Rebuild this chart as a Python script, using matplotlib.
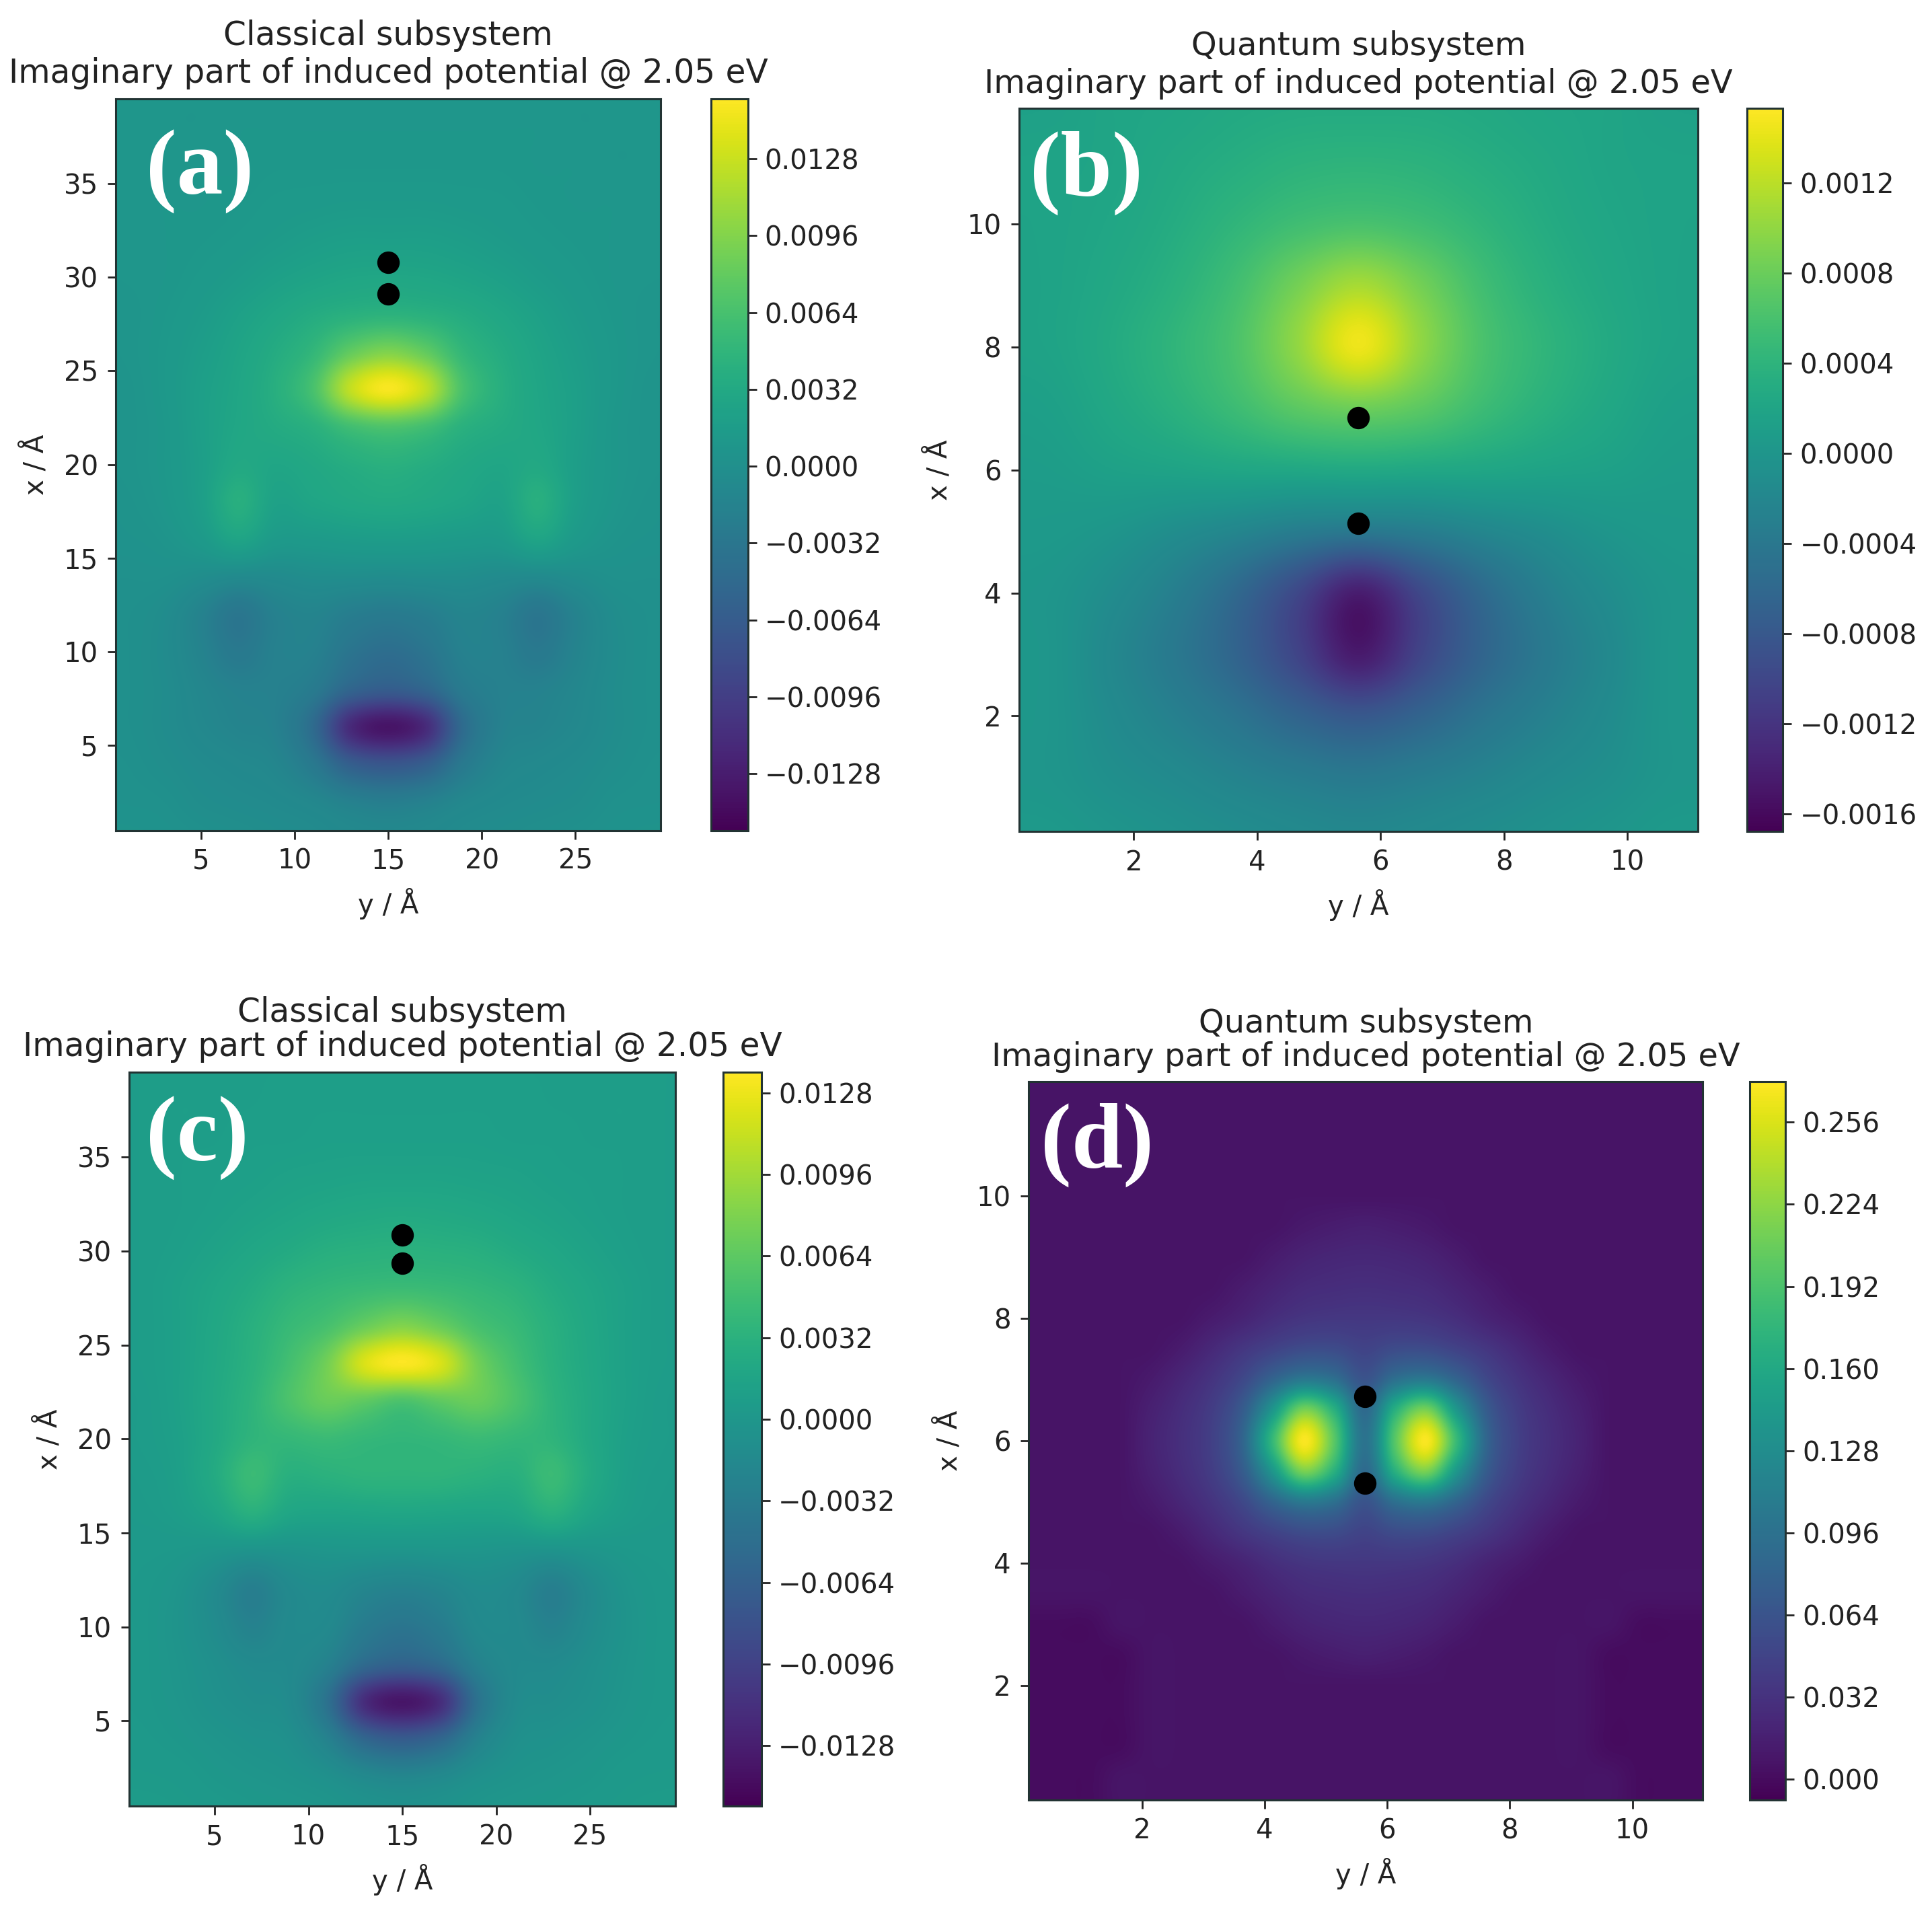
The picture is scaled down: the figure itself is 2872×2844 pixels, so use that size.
import numpy as np
import matplotlib
matplotlib.use('Agg')
import matplotlib.pyplot as plt

W = 2872
H = 2844
S = 2872 / 1568   # my pixel readings were done on a 1568 wide view

plt.rcParams['font.family'] = 'DejaVu Sans'
plt.rcParams['font.size'] = 29
plt.rcParams['text.color'] = '#222222'
plt.rcParams['axes.labelcolor'] = '#222222'
plt.rcParams['xtick.color'] = '#222222'
plt.rcParams['ytick.color'] = '#222222'

title_classical = 'Classical subsystem\nImaginary part of induced potential @ 2.05 eV'
title_quantum = 'Quantum subsystem\nImaginary part of induced potential @ 2.05 eV'

# panel (a), values x 1e-3, rows x = 40, 38 ... 0, columns y = 1, 3 ... 15 (other half is mirror)
a_half = [
    [.8, .8, .8, .8, .8, .8, .8, .8],
    [.8, .8, .8, .9, .9, .9, .9, .9],
    [.8, .8, .9, .9, 1.0, 1.0, 1.0, 1.0],
    [.8, .9, .9, 1.0, 1.2, 1.3, 1.4, 1.4],
    [.8, .9, 1.0, 1.2, 1.5, 1.8, 2.0, 2.0],
    [.8, .9, 1.2, 1.6, 2.1, 2.5, 2.8, 2.9],
    [.7, 1.0, 1.5, 2.2, 2.9, 3.6, 4.2, 4.5],
    [.7, 1.1, 1.8, 2.6, 3.6, 5.0, 8.0, 9.5],
    [.6, 1.1, 2.0, 2.8, 4.0, 6.5, 12.5, 15.0],
    [.6, 1.0, 2.0, 2.9, 3.5, 4.2, 6.0, 6.8],
    [.6, 1.0, 1.9, 3.2, 2.8, 3.2, 3.8, 4.2],
    [.5, .9, 1.9, 4.0, 2.3, 2.7, 3.1, 3.3],
    [.4, .6, 1.3, 2.6, 1.4, 1.4, 1.6, 1.7],
    [.2, .2, -.2, -.6, -.5, -.2, -.2, -.3],
    [.1, -.3, -1.6, -3.2, -1.8, -1.4, -2.2, -2.6],
    [.1, -.4, -1.5, -2.8, -1.8, -1.8, -3.4, -4.2],
    [.1, -.3, -1.1, -1.7, -1.8, -2.6, -5.2, -6.2],
    [.1, -.3, -.9, -1.4, -1.8, -4.5, -11.5, -13.5],
    [.2, -.1, -.5, -.8, -1.2, -2.8, -6.0, -7.0],
    [.3, .2, -.2, -.4, -.6, -1.0, -1.8, -2.2],
    [.5, .4, .2, 0, -.2, -.4, -.7, -.8],
]

# panel (c), same grid as (a)
c_half = [
    [.8, .8, .9, .9, .9, .9, .9, .9],
    [.8, .9, .9, .9, 1.0, 1.0, 1.0, 1.0],
    [.8, .9, .9, 1.0, 1.0, 1.1, 1.1, 1.1],
    [.8, .9, 1.0, 1.1, 1.3, 1.4, 1.5, 1.5],
    [.8, .9, 1.1, 1.4, 1.7, 2.0, 2.2, 2.3],
    [.8, 1.0, 1.4, 1.9, 2.4, 2.9, 3.1, 3.2],
    [.8, 1.2, 1.8, 2.5, 3.4, 3.9, 4.3, 4.5],
    [.8, 1.2, 2.0, 3.0, 4.2, 5.2, 7.0, 8.2],
    [.8, 1.2, 2.1, 3.2, 5.0, 7.5, 12.0, 13.5],
    [.7, 1.2, 2.2, 3.5, 5.5, 7.0, 6.5, 5.5],
    [.7, 1.1, 2.2, 3.6, 4.0, 4.4, 4.0, 3.8],
    [.6, 1.0, 2.4, 4.4, 3.0, 3.2, 3.5, 3.5],
    [.5, .8, 1.6, 3.0, 1.8, 1.6, 1.7, 1.8],
    [.3, .2, -.1, -.4, -.3, -.1, -.1, -.2],
    [.2, -.2, -1.3, -2.8, -1.5, -1.2, -2.0, -2.4],
    [.2, -.3, -1.2, -2.4, -1.5, -1.6, -3.2, -4.0],
    [.2, -.2, -.8, -1.4, -1.5, -2.5, -5.2, -6.2],
    [.2, -.1, -.6, -1.0, -1.4, -4.4, -11.5, -13.5],
    [.3, .1, -.2, -.5, -.8, -2.4, -5.6, -6.8],
    [.5, .4, .1, -.1, -.3, -.7, -1.5, -1.9],
    [.7, .6, .4, .2, .1, -.1, -.4, -.5],
]

# panel (b), values x 1e-3, rows x = 12, 11 ... 0, columns y = 0.64 ... 5.64
b_half = [
    [.15, .20, .22, .26, .28, .28],
    [.18, .20, .26, .32, .38, .40],
    [.18, .22, .30, .42, .54, .60],
    [.18, .25, .36, .55, .85, 1.10],
    [.18, .28, .42, .62, 1.00, 1.45],
    [.14, .24, .36, .52, .72, .82],
    [.10, .15, .18, .22, .24, .26],
    [.05, .0, -.10, -.20, -.32, -.38],
    [.0, -.12, -.30, -.58, -.98, -1.42],
    [.0, -.18, -.38, -.64, -1.02, -1.45],
    [.0, -.14, -.28, -.44, -.65, -.80],
    [.0, -.08, -.15, -.24, -.32, -.38],
    [.05, .0, -.05, -.10, -.15, -.18],
]

# panel (d), rows x = 12, 11.5 ... 0, columns y = 0.14, 0.64 ... 5.64
bg = .007
low = .001
d_half = [
    [bg] * 12,
    [bg] * 12,
    [bg] * 12,
    [bg] * 12,
    [bg] * 12,
    [bg, bg, bg, bg, bg, bg, bg, bg, bg, .011, .014, .016],
    [bg, bg, bg, bg, bg, bg, bg, bg, .013, .019, .022, .023],
    [bg, bg, bg, bg, bg, bg, bg, .013, .020, .026, .028, .029],
    [bg, bg, bg, bg, bg, bg, .013, .020, .029, .035, .037, .037],
    [bg, bg, bg, bg, bg, .013, .024, .036, .047, .056, .056, .048],
    [bg, bg, bg, bg, .012, .022, .034, .052, .082, .105, .095, .064],
    [bg, bg, bg, bg, .017, .028, .042, .072, .140, .215, .170, .088],
    [bg, bg, bg, bg, .019, .030, .045, .082, .180, .270, .200, .098],
    [bg, bg, bg, bg, .017, .028, .042, .072, .140, .215, .170, .088],
    [bg, bg, bg, bg, .012, .022, .034, .052, .082, .105, .095, .064],
    [bg, bg, bg, bg, bg, .013, .024, .036, .047, .056, .056, .048],
    [bg, bg, bg, bg, bg, bg, .013, .020, .029, .035, .037, .037],
    [bg, bg, bg, bg, bg, bg, bg, .013, .020, .026, .028, .029],
    [low, low, low, bg, bg, bg, bg, bg, .013, .019, .022, .023],
    [low, low, low, low, bg, bg, bg, bg, bg, .011, .014, .016],
    [low, low, low, low, bg, bg, bg, bg, bg, bg, bg, bg],
    [low, low, low, low, bg, bg, bg, bg, bg, bg, bg, bg],
    [low, low, low, low, bg, bg, bg, bg, bg, bg, bg, bg],
    [low, low, low, bg, bg, bg, bg, bg, bg, bg, bg, bg],
    [low, low, low, bg, bg, bg, bg, bg, bg, bg, bg, bg],
]

a_ticks = [-.0128, -.0096, -.0064, -.0032, 0, .0032, .0064, .0096, .0128]
b_ticks = [-.0016, -.0012, -.0008, -.0004, 0, .0004, .0008, .0012]
d_ticks = [0, .032, .064, .096, .128, .160, .192, .224, .256]

a_dots = [30.8, 29.1]
b_dots = [6.85, 5.13]
c_dots = [30.87, 29.36]
d_dots = [6.72, 5.31]


def mirror(half):
    half = np.array(half, dtype=float)
    return np.hstack([half, half[:, -2::-1]])


def add_panel(box, cbox, grid, extent, xlim, ylim, vlim, xticks, yticks, cticks, fmt, dots, ymid,
              title, tsize, tspace, tag, tagpos):
    l, r, t, b = [v * S for v in box]
    ax = fig.add_axes([l / W, 1 - b / H, (r - l) / W, (b - t) / H])
    im = ax.imshow(grid, extent=extent, origin='upper', aspect='auto', cmap='viridis',
                   vmin=vlim[0], vmax=vlim[1], interpolation='catrom')
    ax.plot([ymid] * len(dots), dots, 'o', color='black', markersize=23, linestyle='none')
    ax.set_xlim(xlim)
    ax.set_ylim(ylim)
    ax.set_xticks(xticks)
    ax.set_yticks(yticks)
    ax.set_xlabel('y / Å', labelpad=14)
    ax.set_ylabel('x / Å', labelpad=15)
    ax.set_title(title, fontsize=tsize, pad=17, linespacing=tspace)
    ax.tick_params(length=9, width=2, pad=10)
    for s in ax.spines.values():
        s.set_linewidth(2.2)
        s.set_color('#223333')
    ax.text(tagpos[0], tagpos[1], tag, transform=ax.transAxes, color='white', fontsize=99, fontweight='bold',
            family='Liberation Serif', ha='left', va='center')

    cl, cr = cbox[0] * S, cbox[1] * S
    cax = fig.add_axes([cl / W, 1 - b / H, (cr - cl) / W, (b - t) / H])
    cb = fig.colorbar(im, cax=cax)
    labels = [(fmt % v).replace('-', '\u2212') for v in cticks]
    cb.set_ticks(cticks, labels=labels)
    cb.ax.tick_params(length=9, width=2, pad=9)
    cb.outline.set_linewidth(2.2)
    cb.outline.set_edgecolor('#223333')


fig = plt.figure(figsize=(W / 100, H / 100), dpi=100)

add_panel((94, 536, 80, 674), (577, 607), mirror(a_half) * 1e-3, (0, 30, -1, 41),
          (.46, 29.54), (.46, 39.54), (-.01516, .01531),
          [5, 10, 15, 20, 25], [5, 10, 15, 20, 25, 30, 35], a_ticks, '%.4f',
          a_dots, 15, title_classical, 35, 1.22, '(a)', (.055, .90))
add_panel((827, 1378, 88, 675), (1418, 1447), mirror(b_half) * 1e-3, (.14, 11.14, -.5, 12.5),
          (.14, 11.14), (.12, 11.88), (-.00168, .00153),
          [2, 4, 6, 8, 10], [2, 4, 6, 8, 10], b_ticks, '%.4f',
          b_dots, 5.64, title_quantum, 34.5, 1.22, '(b)', (.016, .911))
add_panel((105, 548, 870, 1466), (587, 618), mirror(c_half) * 1e-3, (0, 30, -1, 41),
          (.46, 29.54), (.46, 39.54), (-.01517, .01362),
          [5, 10, 15, 20, 25], [5, 10, 15, 20, 25, 30, 35], a_ticks, '%.4f',
          c_dots, 15, title_classical, 35, 1.08, '(c)', (.03, .909))
add_panel((835, 1382, 878, 1461), (1420, 1449), mirror(d_half), (-.11, 11.39, -.25, 12.25),
          (.15, 11.15), (.125, 11.87), (-.0082, .2718),
          [2, 4, 6, 8, 10], [2, 4, 6, 8, 10], d_ticks, '%.3f',
          d_dots, 5.64, title_quantum, 34.5, 1.08, '(d)', (.018, .912))

fig.savefig('out.png', dpi=100)
